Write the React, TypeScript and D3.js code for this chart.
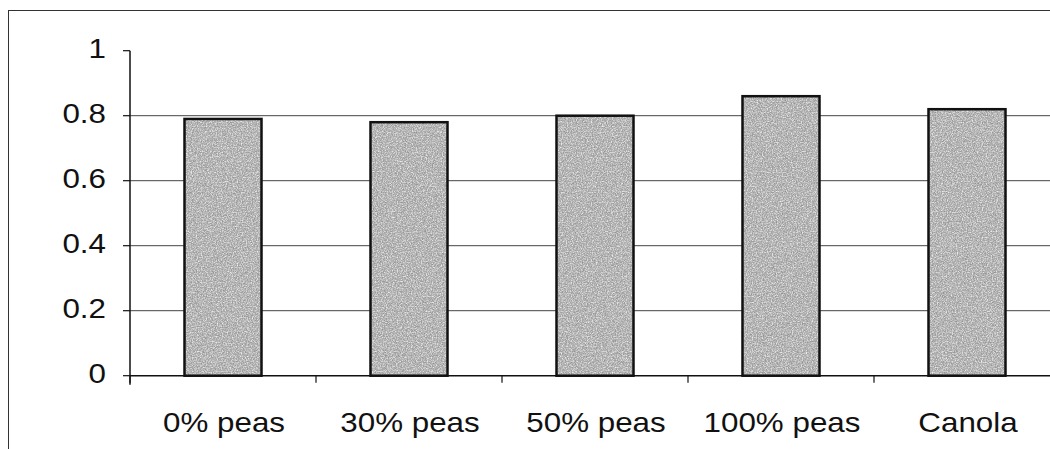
import React from "react";
import * as d3 from "d3";

const categories = ["0% peas", "30% peas", "50% peas", "100% peas", "Canola"];
const values = [0.79, 0.78, 0.8, 0.86, 0.82];
const yTicks = [0, 0.2, 0.4, 0.6, 0.8, 1];
const gridTicks = [0.2, 0.4, 0.6, 0.8];

const W = 1050;
const H = 449;
const left = 130;
const right = 1060;
const top = 50.7;
const bottom = 375.7;
const FONT = "'Liberation Sans', Arial, sans-serif";
const SX = 1.12;

export default function App() {
  const x = d3.scaleBand<string>().domain(categories).range([left, right]).paddingInner(0.586).paddingOuter(0.293);
  const y = d3.scaleLinear().domain([0, 1]).range([bottom, top]);
  const step = x.step();
  const boundaries = d3.range(categories.length + 1).map((i) => left + i * step);

  return (
    <svg width={W} height={H} style={{ position: "absolute", left: 0, top: 0, background: "#fff" }}>
      <defs>
        {/* stippled grey fill for the bars */}
        <filter id="grain" x="0" y="0" width="100%" height="100%">
          <feTurbulence type="fractalNoise" baseFrequency="0.9" numOctaves="2" seed="7" result="n" />
          <feColorMatrix
            in="n"
            type="matrix"
            values="0 0 0 0 0.25  0 0 0 0 0.25  0 0 0 0 0.25  0 0 0 -2.6 1.55"
            result="dark"
          />
          <feComposite in="dark" in2="SourceGraphic" operator="in" result="darkIn" />
          <feTurbulence type="fractalNoise" baseFrequency="0.8" numOctaves="2" seed="19" result="n2" />
          <feColorMatrix
            in="n2"
            type="matrix"
            values="0 0 0 0 1  0 0 0 0 1  0 0 0 0 1  0 0 0 -2.6 1.45"
            result="light"
          />
          <feComposite in="light" in2="SourceGraphic" operator="in" result="lightIn" />
          <feMerge>
            <feMergeNode in="darkIn" />
            <feMergeNode in="lightIn" />
          </feMerge>
        </filter>
      </defs>
      <rect x={8.5} y={10.5} width={1100} height={500} fill="none" stroke="#333" strokeWidth={1} />

      {gridTicks.map((t) => (
        <line key={t} x1={left} x2={right} y1={y(t)} y2={y(t)} stroke="#444" strokeWidth={1} />
      ))}

      {categories.map((c, i) => {
        const bx = x(c)!;
        const by = y(values[i]);
        const bh = bottom - by;
        return (
          <g key={c}>
            <rect x={bx} y={by} width={x.bandwidth()} height={bh} fill="#b0b0b0" />
            <rect x={bx} y={by} width={x.bandwidth()} height={bh} fill="#b0b0b0" filter="url(#grain)" opacity={0.75} />
            <rect x={bx} y={by} width={x.bandwidth()} height={bh} fill="none" stroke="#111" strokeWidth={2.5} />
          </g>
        );
      })}

      <line x1={left} x2={right} y1={bottom} y2={bottom} stroke="#111" strokeWidth={1.5} />
      <line x1={left} x2={left} y1={top} y2={bottom + 9} stroke="#111" strokeWidth={1.5} />
      {yTicks.map((t) => (
        <line key={t} x1={left - 7} x2={left} y1={y(t)} y2={y(t)} stroke="#111" strokeWidth={1.2} />
      ))}
      {boundaries.map((bx, i) => (
        <line key={i} x1={bx} x2={bx} y1={bottom} y2={bottom + 7} stroke="#111" strokeWidth={1.2} />
      ))}

      {yTicks.map((t) => (
        <text
          key={t}
          transform={`translate(106,${y(t) + 7.6}) scale(${SX},1)`}
          textAnchor="end"
          fontFamily={FONT}
          fontSize={28}
          fill="#111"
        >
          {d3.format("~g")(t)}
        </text>
      ))}

      {categories.map((c) => (
        <text
          key={c}
          transform={`translate(${x(c)! + x.bandwidth() / 2 + 1},431.5) scale(${SX},1)`}
          textAnchor="middle"
          fontFamily={FONT}
          fontSize={28}
          fill="#111"
        >
          {c}
        </text>
      ))}
    </svg>
  );
}
